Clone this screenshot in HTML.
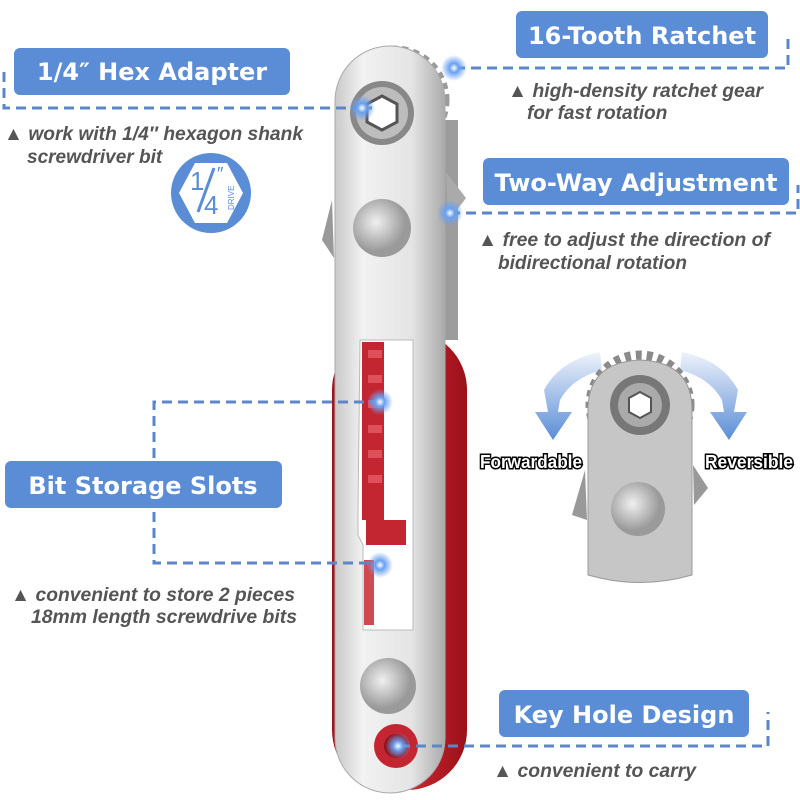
<!DOCTYPE html>
<html><head><meta charset="utf-8"><style>
html,body{margin:0;padding:0;background:#fff;width:800px;height:800px;overflow:hidden}
svg{display:block}
.lbl{font-family:"DejaVu Sans","Liberation Sans",sans-serif;font-weight:bold;fill:#fff}
.cap{font-family:"Liberation Sans",sans-serif;font-style:italic;font-weight:bold;fill:#555;font-size:19px}
.dl{stroke:#5b86c8;stroke-width:3;stroke-dasharray:10 6;fill:none}
.fr{font-family:"Liberation Sans",sans-serif;font-weight:bold;font-size:18px;fill:#fff;stroke:#000;stroke-width:3;paint-order:stroke}
</style></head><body>
<svg width="800" height="800" viewBox="0 0 800 800">
<defs>
<linearGradient id="sil" x1="0" x2="1"><stop offset="0" stop-color="#c9c9c9"/><stop offset="0.25" stop-color="#f2f2f2"/><stop offset="0.7" stop-color="#e4e4e4"/><stop offset="1" stop-color="#aaa"/></linearGradient>
<linearGradient id="red" x1="0" x2="1"><stop offset="0" stop-color="#a01420"/><stop offset="0.5" stop-color="#d42a35"/><stop offset="1" stop-color="#9a1019"/></linearGradient>
<radialGradient id="hole" cx="0.4" cy="0.4"><stop offset="0" stop-color="#f0f0f0"/><stop offset="1" stop-color="#9a9a9a"/></radialGradient>
<radialGradient id="dot"><stop offset="0" stop-color="#fff"/><stop offset="0.35" stop-color="#6aa0f0"/><stop offset="1" stop-color="#6aa0f0" stop-opacity="0"/></radialGradient>
<linearGradient id="arr" x1="0" y1="0" x2="0" y2="1"><stop offset="0" stop-color="#eef3fb"/><stop offset="1" stop-color="#5b8dd6"/></linearGradient>
</defs>

<!-- gear teeth top -->
<g stroke="#9a9a9a" stroke-width="9" stroke-dasharray="6 5" fill="none"><circle cx="395" cy="100" r="50"/></g>
<!-- red back -->
<rect x="332" y="330" width="135" height="460" rx="60" fill="url(#red)"/>
<!-- gear side strip -->
<rect x="440" y="120" width="18" height="220" fill="#9c9c9c"/>
<path d="M332 200 L322 240 L334 258 Z" fill="#999"/>
<path d="M446 172 L466 198 L448 222 Z" fill="#aaa"/>
<!-- silver bar -->
<rect x="335" y="46" width="110" height="747" rx="55" fill="url(#sil)" stroke="#aaa"/>
<!-- socket -->
<circle cx="382" cy="113" r="32" fill="#888"/>
<circle cx="382" cy="113" r="26" fill="#bdbdbd"/>
<polygon points="382,96 397,104 397,122 382,130 367,122 367,104" fill="#fff" stroke="#555" stroke-width="3"/>
<!-- upper hole -->
<circle cx="382" cy="228" r="29" fill="url(#hole)"/>
<!-- slot -->
<path d="M360 340 h53 v290 h-50 v-85 l-5 -10 v-25 z" fill="#fff" stroke="#bbb"/>
<path d="M362 342 h22 v178 h-22 z" fill="#c42631"/>
<g fill="#e0505a"><rect x="368" y="350" width="14" height="8"/><rect x="368" y="375" width="14" height="8"/><rect x="368" y="400" width="14" height="8"/><rect x="368" y="425" width="14" height="8"/><rect x="368" y="450" width="14" height="8"/><rect x="368" y="475" width="14" height="8"/></g>
<rect x="366" y="520" width="40" height="25" fill="#c42631"/>
<rect x="364" y="560" width="10" height="65" fill="#d04a52"/>
<!-- lower hole -->
<circle cx="388" cy="686" r="28" fill="url(#hole)"/>
<!-- key hole -->
<circle cx="396" cy="746" r="22" fill="#c42631"/>
<circle cx="396" cy="746" r="12" fill="#8e1018"/>

<!-- dashed connectors -->
<path class="dl" d="M4 72 V108 H372"/>
<path class="dl" d="M455 68 H788 V35"/>
<path class="dl" d="M450 213 H798 V185"/>
<path class="dl" d="M380 402 H154 V563 H380"/>
<path class="dl" d="M400 746 H768 V712"/>
<!-- glow dots -->
<circle cx="362" cy="108" r="13" fill="url(#dot)"/>
<circle cx="454" cy="68" r="13" fill="url(#dot)"/>
<circle cx="450" cy="213" r="13" fill="url(#dot)"/>
<circle cx="380" cy="402" r="13" fill="url(#dot)"/>
<circle cx="380" cy="565" r="13" fill="url(#dot)"/>
<circle cx="398" cy="746" r="13" fill="url(#dot)"/>

<!-- label boxes -->
<rect x="14" y="48" width="276" height="47" rx="6" fill="#5b8dd6"/>
<text class="lbl" x="152" y="80" font-size="24" text-anchor="middle">1/4″ Hex Adapter</text>
<rect x="516" y="11" width="252" height="47" rx="6" fill="#5b8dd6"/>
<text class="lbl" x="642" y="44" font-size="24" text-anchor="middle">16-Tooth Ratchet</text>
<rect x="483" y="158" width="306" height="47" rx="6" fill="#5b8dd6"/>
<text class="lbl" x="636" y="191" font-size="24" text-anchor="middle">Two-Way Adjustment</text>
<rect x="5" y="461" width="277" height="47" rx="6" fill="#5b8dd6"/>
<text class="lbl" x="143" y="494" font-size="24" text-anchor="middle">Bit Storage Slots</text>
<rect x="499" y="690" width="250" height="47" rx="6" fill="#5b8dd6"/>
<text class="lbl" x="624" y="723" font-size="24" text-anchor="middle">Key Hole Design</text>

<!-- captions -->
<text class="cap" x="4" y="140" textLength="299" lengthAdjust="spacingAndGlyphs">▲ work with 1/4″ hexagon shank</text>
<text class="cap" x="27" y="163">screwdriver bit</text>
<text class="cap" x="508" y="97" textLength="255" lengthAdjust="spacingAndGlyphs">▲ high-density ratchet gear</text>
<text class="cap" x="527" y="119">for fast rotation</text>
<text class="cap" x="478" y="246" textLength="292" lengthAdjust="spacingAndGlyphs">▲ free to adjust the direction of</text>
<text class="cap" x="498" y="269">bidirectional rotation</text>
<text class="cap" x="11" y="601" textLength="284" lengthAdjust="spacingAndGlyphs">▲ convenient to store 2 pieces</text>
<text class="cap" x="31" y="623" textLength="266" lengthAdjust="spacingAndGlyphs">18mm length screwdrive bits</text>
<text class="cap" x="493" y="777" textLength="203" lengthAdjust="spacingAndGlyphs">▲ convenient to carry</text>

<!-- 1/4 drive badge -->
<circle cx="211" cy="193" r="40" fill="#5b8dd6"/>
<polygon points="195,163 227,163 243,193 227,223 195,223 179,193" fill="#fff"/>
<text x="190" y="190" font-family="Liberation Sans,sans-serif" font-size="26" fill="#5b8dd6">1</text>
<line x1="214" y1="168" x2="198" y2="212" stroke="#5b8dd6" stroke-width="3"/>
<text x="204" y="214" font-family="Liberation Sans,sans-serif" font-size="26" fill="#5b8dd6">4</text>
<text x="217" y="180" font-family="Liberation Sans,sans-serif" font-size="18" fill="#5b8dd6">″</text>
<text x="0" y="0" font-family="Liberation Sans,sans-serif" font-size="8" fill="#5b8dd6" transform="translate(234,210) rotate(-90)">DRIVE</text>

<!-- right inset -->
<path d="M544 390 Q560 360 600 352 L602 370 Q572 378 560 400 L558 412 L572 412 L553 440 L535 412 L548 412 Z" fill="url(#arr)"/>
<path d="M738 390 Q722 360 682 352 L680 370 Q710 378 722 400 L724 412 L710 412 L729 440 L747 412 L734 412 Z" fill="url(#arr)"/>
<g stroke="#8a8a8a" stroke-width="9" stroke-dasharray="6 5" fill="none"><circle cx="640" cy="405" r="50"/></g>
<path d="M585 470 L572 515 L587 520 Z M693 465 L708 488 L694 505 Z" fill="#999"/>
<path d="M588 410 Q588 362 640 360 Q692 362 692 410 V575 Q640 590 588 575 Z" fill="#c6c6c6" stroke="#999"/>
<circle cx="640" cy="405" r="30" fill="#777"/>
<circle cx="640" cy="405" r="22" fill="#aaa"/>
<polygon points="640,392 651,398 651,412 640,418 629,412 629,398" fill="#fff" stroke="#555" stroke-width="2"/>
<circle cx="638" cy="509" r="27" fill="url(#hole)"/>
<text class="fr" x="480" y="468" textLength="102" lengthAdjust="spacingAndGlyphs">Forwardable</text>
<text class="fr" x="705" y="468" textLength="88" lengthAdjust="spacingAndGlyphs">Reversible</text>
</svg>
</body></html>
